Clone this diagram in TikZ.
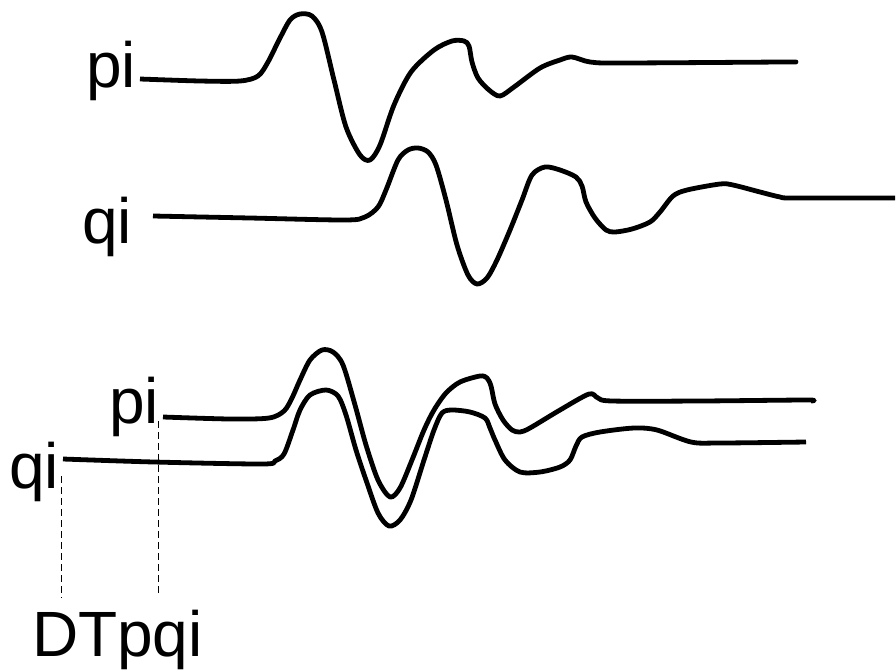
\documentclass[tikz,border=0pt]{standalone}
\usepackage{fontspec}
\setmainfont{Liberation Sans}
\usetikzlibrary{positioning,calc}

\begin{document}
\begin{tikzpicture}[
        x=1pt,y=-1pt,
        font=\fontsize{64}{64}\selectfont,
        wave/.style={line width=4.8pt,line join=round,black},
        lbl/.style={inner sep=0pt,outer sep=0pt},
        guide/.style={line width=0.9pt,dash pattern=on 7pt off 4pt}
    ]
        \useasboundingbox (0,0) rectangle (896,670);

        \node[lbl,anchor=base east] (piA) at (136,87) {pi};
        \node[lbl,anchor=base east] (qiA) at (132,243) {qi};
        \node[lbl,anchor=base east] (piB) at (159,423) {pi};
        \node[lbl,anchor=base east] (qiB) at (59,488) {qi};
        \node[lbl,anchor=base west] (dt) at (32,656) {DTpqi};

        \coordinate (piAstart) at (140,79);
        \coordinate (qiAstart) at (153,216);
        \coordinate (piBstart) at (163,417);
        \coordinate (qiBstart) at (63,459);

        \draw[wave] plot[smooth,tension=0.5] coordinates {(piAstart) (200,81) (240,81) (258,76) (268,62) (279,40) (290,20) (300,14) (312,16) (322,32) (334,80) (346,127) (360,155) (370,160) (380,145) (394,105) (411,72) (434,50) (452,41) (464,41) (469,46) (472,62) (478,78) (489,90) (500,96) (514,87) (540,68) (560,60) (572,57) (590,62) (620,63) (783,62) (791,62)};

        \draw[wave] plot[smooth,tension=0.5] coordinates {(qiAstart) (250,218) (345,220) (365,217) (378,207) (386,190) (398,160) (408,150) (418,148) (428,152) (436,165) (446,200) (457,245) (468,275) (477,284) (487,278) (497,260) (510,230) (522,200) (532,175) (545,167) (560,170) (576,177) (582,186) (586,202) (595,218) (606,230) (615,232) (632,229) (650,222) (660,212) (673,196) (687,190) (720,184) (733,185) (760,192) (780,197) (793,198) (895,198)};

        \draw[wave] plot[smooth,tension=0.5] coordinates {(piBstart) (230,419) (269,418) (284,411) (292,398) (300,380) (310,360) (322,350) (333,352) (343,365) (355,405) (366,445) (378,480) (390,497) (400,488) (412,460) (424,430) (434,410) (446,393) (460,382) (480,376) (487,378) (491,386) (495,404) (503,420) (512,430) (520,432) (530,428) (560,410) (589,394) (598,398) (612,401) (700,401) (806,400) (811,401)};

        \draw[wave] plot[smooth,tension=0.5] coordinates {(qiBstart) (154,462) (262,464) (275,461) (284,454) (293,430) (300,410) (310,395) (326,390) (338,396) (346,415) (356,450) (366,480) (378,513) (389,526) (400,520) (411,500) (424,460) (434,430) (442,413) (452,410) (470,412) (485,418) (490,428) (495,440) (505,460) (520,472) (540,472) (560,467) (570,460) (576,446) (582,437) (600,432) (634,428) (657,430) (691,442) (720,443) (806,442)};

        \draw[guide] ($(qiBstart)+(-2,17)$) -- ($(qiBstart|-dt.north)+(-2,-12)$);
        \draw[guide] ($(piBstart)+(-5,4)$) -- ($(piBstart|-dt.north)+(-5,-14)$);
    \end{tikzpicture}
\end{document}
